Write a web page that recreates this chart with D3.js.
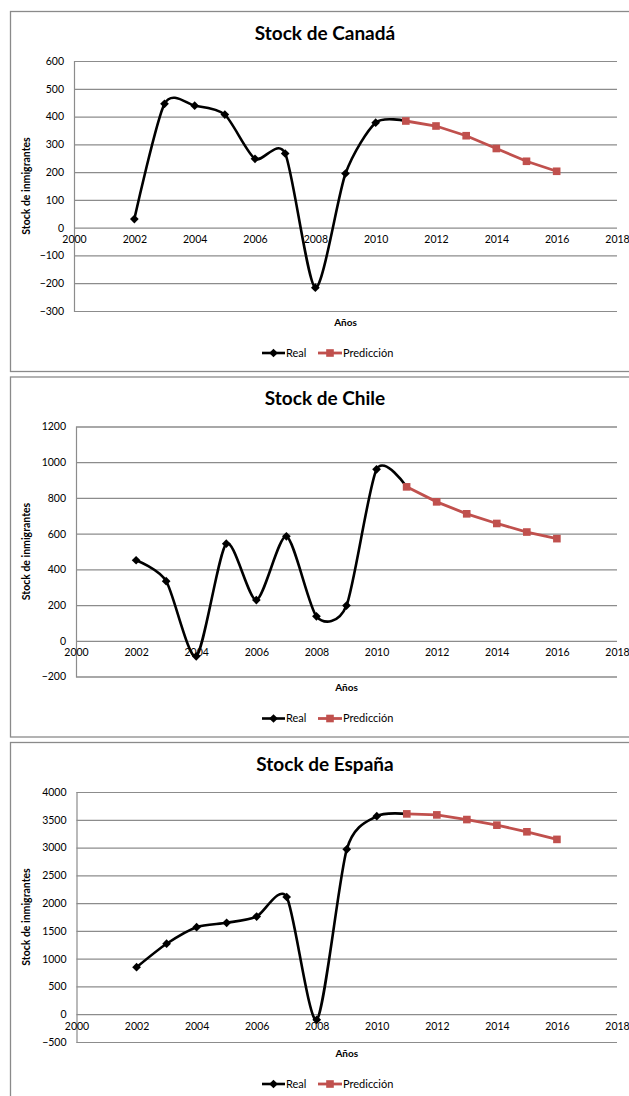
<!DOCTYPE html>
<html>
<head>
<meta charset="utf-8">
<script src="https://cdn.jsdelivr.net/npm/d3@7"></script>
<style>
  html, body { margin: 0; padding: 0; background: #fff; }
  svg { display: block; }
  text { font-family: Lato, "Open Sans", sans-serif; fill: #000; }
</style>
</head>
<body>
<script>
// Years covered by observed data and by forecast
const realYears = [2002, 2003, 2004, 2005, 2006, 2007, 2008, 2009, 2010, 2011];
const predYears = [2011, 2012, 2013, 2014, 2015, 2016];
const xTicks = [2000, 2002, 2004, 2006, 2008, 2010, 2012, 2014, 2016, 2018];

// Canadá
const canadaReal = [31, 446, 439, 407, 248, 267, -216, 195, 378, 384];
const canadaPred = [384, 366, 331, 285, 239, 203];
const canadaTicks = [-300, -200, -100, 0, 100, 200, 300, 400, 500, 600];

// Chile
const chileReal = [451, 334, -87, 544, 228, 585, 137, 197, 960, 862];
const chilePred = [862, 778, 711, 657, 609, 572];
const chileTicks = [-200, 0, 200, 400, 600, 800, 1000, 1200];

// España
const spainReal = [846, 1269, 1567, 1645, 1758, 2110, -101, 2968, 3564, 3606];
const spainPred = [3606, 3588, 3504, 3403, 3284, 3147];
const spainTicks = [-500, 0, 500, 1000, 1500, 2000, 2500, 3000, 3500, 4000];

const panels = [
  { title: "Stock de Canadá", real: canadaReal, pred: canadaPred, ticks: canadaTicks, top: 11, left: 74 },
  { title: "Stock de Chile", real: chileReal, pred: chilePred, ticks: chileTicks, top: 376.5, left: 76 },
  { title: "Stock de España", real: spainReal, pred: spainPred, ticks: spainTicks, top: 742, left: 76.5 }
];

const W = 629, H = 1096;
const RED = "#C0504D";
const GRID = "#8c8c8c";

const svg = d3.select("body").append("svg")
  .attr("width", W).attr("height", H);

svg.append("rect").attr("width", W).attr("height", H).attr("fill", "#fff");

// diamond marker = square turned 45 degrees
const diamond = d3.symbol().type(d3.symbolSquare).size(38);
const square = d3.symbol().type(d3.symbolSquare).size(58);
const smooth = d3.curveCardinal.tension(0.25);

panels.forEach(p => {
  const g = svg.append("g").attr("transform", `translate(0,${p.top})`);

  // panel frame
  g.append("rect")
    .attr("x", 10.5).attr("y", 0.5)
    .attr("width", 640).attr("height", 360)
    .attr("fill", "#fff")
    .attr("stroke", "#8a8a8a").attr("stroke-width", 1.3);

  const plotTop = 50, plotBottom = 300, plotRight = 617;

  const x = d3.scaleLinear().domain([2000, 2018]).range([p.left, plotRight]);
  const y = d3.scaleLinear()
    .domain([d3.min(p.ticks), d3.max(p.ticks)])
    .range([plotBottom, plotTop]);

  // horizontal gridlines and y labels
  const yAxis = d3.axisLeft(y).tickValues(p.ticks)
    .tickSize(-(plotRight - p.left)).tickPadding(10).tickFormat(d3.format("d"));
  const ya = g.append("g").attr("transform", `translate(${p.left},0)`).call(yAxis);
  ya.select(".domain").attr("stroke", GRID).attr("stroke-width", 1.2);
  ya.selectAll(".tick line").attr("stroke", GRID).attr("stroke-width", 1.2);
  ya.selectAll(".tick text")
    .attr("font-family", "Lato, sans-serif").attr("font-size", 10.5).attr("fill", "#000");

  // x labels sit just under the zero line
  const xAxis = d3.axisBottom(x).tickValues(xTicks).tickSize(0).tickPadding(8)
    .tickFormat(d3.format("d"));
  const xa = g.append("g").attr("transform", `translate(0,${y(0)})`).call(xAxis);
  xa.select(".domain").remove();
  xa.selectAll(".tick text")
    .attr("font-family", "Lato, sans-serif").attr("font-size", 10.5).attr("fill", "#000");

  // title
  g.append("text")
    .attr("x", 325).attr("y", 22).attr("dy", "0.35em")
    .attr("text-anchor", "middle")
    .attr("font-size", 19).attr("font-weight", "bold")
    .text(p.title);

  // axis titles
  g.append("text")
    .attr("transform", `translate(26,${(plotTop + plotBottom) / 2}) rotate(-90)`)
    .attr("text-anchor", "middle").attr("dy", "0.35em")
    .attr("font-size", 10.5).attr("font-weight", "bold")
    .text("Stock de inmigrantes");

  g.append("text")
    .attr("x", (p.left + plotRight) / 2).attr("y", 311).attr("dy", "0.35em")
    .attr("text-anchor", "middle")
    .attr("font-size", 10).attr("font-weight", "bold")
    .text("Años");

  // series
  const realPts = realYears.map((yr, i) => [yr, p.real[i]]);
  const predPts = predYears.map((yr, i) => [yr, p.pred[i]]);

  const line = d3.line().x(d => x(d[0])).y(d => y(d[1]));

  g.append("path")
    .attr("d", line.curve(smooth)(realPts))
    .attr("fill", "none").attr("stroke", "#000").attr("stroke-width", 2.6);

  // diamonds; the point shared with the forecast is covered by its square
  g.selectAll(".dm").data(realPts.filter(d => !predYears.includes(d[0]))).enter().append("path")
    .attr("transform", d => `translate(${x(d[0])},${y(d[1])}) rotate(45)`)
    .attr("d", diamond).attr("fill", "#000");

  g.append("path")
    .attr("d", line.curve(d3.curveLinear)(predPts))
    .attr("fill", "none").attr("stroke", RED).attr("stroke-width", 2.8);

  g.selectAll(".sq").data(predPts).enter().append("path")
    .attr("transform", d => `translate(${x(d[0])},${y(d[1])})`)
    .attr("d", square).attr("fill", RED);

  // legend
  const ly = 342;
  const lg = g.append("g");
  lg.append("line").attr("x1", 262).attr("x2", 285).attr("y1", ly).attr("y2", ly)
    .attr("stroke", "#000").attr("stroke-width", 2.6);
  lg.append("path").attr("transform", `translate(273.5,${ly}) rotate(45)`).attr("d", diamond).attr("fill", "#000");
  lg.append("text").attr("x", 286).attr("y", ly).attr("dy", "0.35em")
    .attr("font-size", 11).text("Real");
  lg.append("line").attr("x1", 318).attr("x2", 342).attr("y1", ly).attr("y2", ly)
    .attr("stroke", RED).attr("stroke-width", 2.8);
  lg.append("path").attr("transform", `translate(330,${ly})`).attr("d", square).attr("fill", RED);
  lg.append("text").attr("x", 343).attr("y", ly).attr("dy", "0.35em")
    .attr("font-size", 11).text("Predicción");
});
</script>
</body>
</html>
